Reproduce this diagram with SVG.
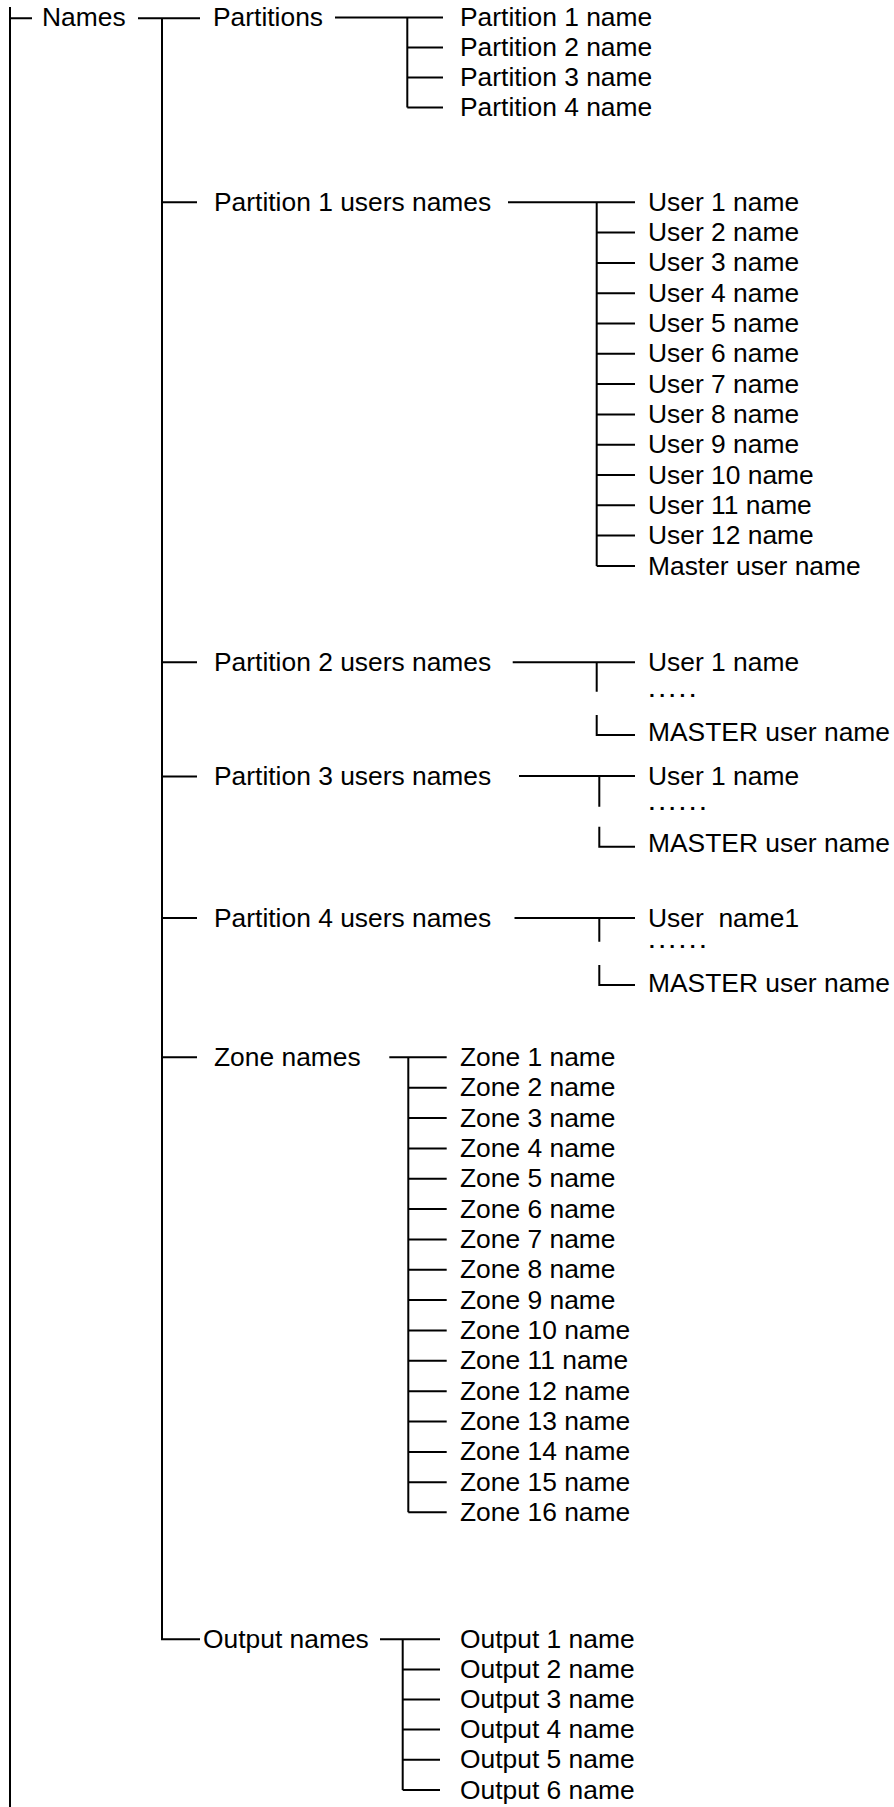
<svg xmlns="http://www.w3.org/2000/svg" width="894" height="1807" viewBox="0 0 894 1807">
<style>
text{font-family:"Liberation Sans",Arial,sans-serif;font-size:26.4px;fill:#000}
.c{stroke:#000;stroke-width:2;fill:none}
.d{font-size:21px;font-weight:bold;letter-spacing:4.35px}
</style>
<rect width="894" height="1807" fill="#fff"/>
<g id="connectors" class="c">
<path d="M10,7V1807M10,18.3H32M138,18.3H200"/>
<path d="M162,18.3V1639.3H200M162,202.3H197M162,662.3H197M162,776.5H197M162,918H197M162,1057.3H197"/>
<path d="M335,17.5H443M407.3,17.5V107.5M407.3,47.5H443M407.3,77.5H443M407.3,107.5H443"/>
<path d="M508,202.3H635M596.7,202.3V566M596.7,232.6H635M596.7,262.9H635M596.7,293.2H635M596.7,323.5H635M596.7,353.8H635M596.7,384.1H635M596.7,414.4H635M596.7,444.7H635M596.7,475H635M596.7,505.3H635M596.7,535.6H635M596.7,566H635"/>
<path d="M512.7,662.3H635M596.7,662.3V691.7M596.7,715V735H635"/>
<path d="M519,776H635M599.3,776V806.7M599.3,826.7V846.7H635"/>
<path d="M514.5,918H635M599.3,918V941.7M599.3,965V985H635"/>
<path d="M389.3,1057.3H446.7M408.3,1057.3V1512.3M408.3,1087.7H446.7M408.3,1118H446.7M408.3,1148.4H446.7M408.3,1178.7H446.7M408.3,1209.1H446.7M408.3,1239.4H446.7M408.3,1269.8H446.7M408.3,1300.1H446.7M408.3,1330.5H446.7M408.3,1360.8H446.7M408.3,1391.2H446.7M408.3,1421.5H446.7M408.3,1451.9H446.7M408.3,1482.2H446.7M408.3,1512.3H446.7"/>
<path d="M380,1639.3H440M402.7,1639.3V1790M402.7,1669.4H440M402.7,1699.5H440M402.7,1729.6H440M402.7,1759.8H440M402.7,1790H440"/>
</g>
<g id="root"><text x="42" y="26">Names</text></g>
<g id="partitions"><text x="213" y="26">Partitions</text></g>
<g id="partition-names">
<text x="460" y="26">Partition 1 name</text>
<text x="460" y="56">Partition 2 name</text>
<text x="460" y="86">Partition 3 name</text>
<text x="460" y="116">Partition 4 name</text>
</g>
<g id="p1-users"><text x="214" y="211">Partition 1 users names</text></g>
<g id="p1-user-list">
<text x="648" y="211">User 1 name</text>
<text x="648" y="241.1">User 2 name</text>
<text x="648" y="271.4">User 3 name</text>
<text x="648" y="301.7">User 4 name</text>
<text x="648" y="332">User 5 name</text>
<text x="648" y="362.3">User 6 name</text>
<text x="648" y="392.6">User 7 name</text>
<text x="648" y="422.9">User 8 name</text>
<text x="648" y="453.2">User 9 name</text>
<text x="648" y="483.5">User 10 name</text>
<text x="648" y="513.8">User 11 name</text>
<text x="648" y="544.1">User 12 name</text>
<text x="648" y="574.5">Master user name</text>
</g>
<g id="p2-users"><text x="214" y="671">Partition 2 users names</text></g>
<g id="p2-user-list">
<text x="648" y="671">User 1 name</text>
<text class="d" x="649" y="697">.....</text>
<text x="648" y="740.5">MASTER user name</text>
</g>
<g id="p3-users"><text x="214" y="784.5">Partition 3 users names</text></g>
<g id="p3-user-list">
<text x="648" y="784.5">User 1 name</text>
<text class="d" x="649" y="810">......</text>
<text x="648" y="852">MASTER user name</text>
</g>
<g id="p4-users"><text x="214" y="926.5">Partition 4 users names</text></g>
<g id="p4-user-list">
<text x="648" y="926.5" xml:space="preserve">User  name1</text>
<text class="d" x="649" y="948">......</text>
<text x="648" y="991.5">MASTER user name</text>
</g>
<g id="zones"><text x="214" y="1066">Zone names</text></g>
<g id="zone-list">
<text x="460" y="1066">Zone 1 name</text>
<text x="460" y="1096.2">Zone 2 name</text>
<text x="460" y="1126.5">Zone 3 name</text>
<text x="460" y="1156.9">Zone 4 name</text>
<text x="460" y="1187.2">Zone 5 name</text>
<text x="460" y="1217.6">Zone 6 name</text>
<text x="460" y="1247.9">Zone 7 name</text>
<text x="460" y="1278.3">Zone 8 name</text>
<text x="460" y="1308.6">Zone 9 name</text>
<text x="460" y="1339">Zone 10 name</text>
<text x="460" y="1369.3">Zone 11 name</text>
<text x="460" y="1399.7">Zone 12 name</text>
<text x="460" y="1430">Zone 13 name</text>
<text x="460" y="1460.4">Zone 14 name</text>
<text x="460" y="1490.7">Zone 15 name</text>
<text x="460" y="1521">Zone 16 name</text>
</g>
<g id="outputs"><text x="203" y="1648">Output names</text></g>
<g id="output-list">
<text x="460" y="1648">Output 1 name</text>
<text x="460" y="1678">Output 2 name</text>
<text x="460" y="1708">Output 3 name</text>
<text x="460" y="1738.2">Output 4 name</text>
<text x="460" y="1768.3">Output 5 name</text>
<text x="460" y="1798.5">Output 6 name</text>
</g>
</svg>
